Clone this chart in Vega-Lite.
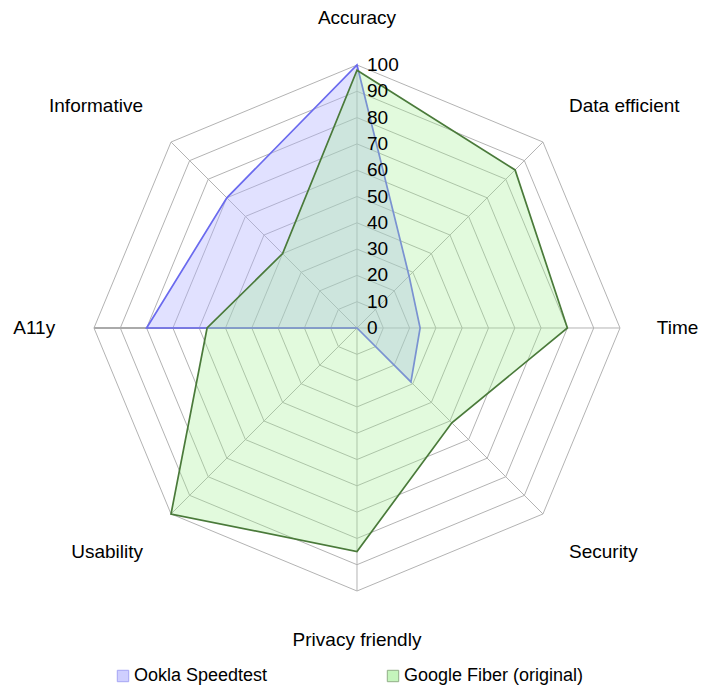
{
  "$schema": "https://vega.github.io/schema/vega-lite/v6.json",
  "width": 720,
  "height": 695,
  "autosize": "none",
  "padding": 0,
  "background": "white",
  "config": {"view": {"stroke": null}, "font": "Liberation Sans"},
  "datasets": {
    "scores": [
      {"series": "Ookla Speedtest", "category": "Accuracy", "k": 0, "value": 100},
      {"series": "Ookla Speedtest", "category": "Data efficient", "k": 1, "value": 28},
      {"series": "Ookla Speedtest", "category": "Time", "k": 2, "value": 24},
      {"series": "Ookla Speedtest", "category": "Security", "k": 3, "value": 29},
      {"series": "Ookla Speedtest", "category": "Privacy friendly", "k": 4, "value": 0},
      {"series": "Ookla Speedtest", "category": "Usability", "k": 5, "value": 0},
      {"series": "Ookla Speedtest", "category": "A11y", "k": 6, "value": 80},
      {"series": "Ookla Speedtest", "category": "Informative", "k": 7, "value": 70},
      {"series": "Google Fiber (original)", "category": "Accuracy", "k": 0, "value": 98},
      {"series": "Google Fiber (original)", "category": "Data efficient", "k": 1, "value": 85},
      {"series": "Google Fiber (original)", "category": "Time", "k": 2, "value": 80},
      {"series": "Google Fiber (original)", "category": "Security", "k": 3, "value": 51},
      {"series": "Google Fiber (original)", "category": "Privacy friendly", "k": 4, "value": 85},
      {"series": "Google Fiber (original)", "category": "Usability", "k": 5, "value": 100},
      {"series": "Google Fiber (original)", "category": "A11y", "k": 6, "value": 57},
      {"series": "Google Fiber (original)", "category": "Informative", "k": 7, "value": 40}
    ],
    "categories": [
      {"category": "Accuracy", "k": 0},
      {"category": "Data efficient", "k": 1},
      {"category": "Time", "k": 2},
      {"category": "Security", "k": 3},
      {"category": "Privacy friendly", "k": 4},
      {"category": "Usability", "k": 5},
      {"category": "A11y", "k": 6},
      {"category": "Informative", "k": 7}
    ],
    "rings": [
      {"level": 10, "k": [0, 1, 2, 3, 4, 5, 6, 7]},
      {"level": 20, "k": [0, 1, 2, 3, 4, 5, 6, 7]},
      {"level": 30, "k": [0, 1, 2, 3, 4, 5, 6, 7]},
      {"level": 40, "k": [0, 1, 2, 3, 4, 5, 6, 7]},
      {"level": 50, "k": [0, 1, 2, 3, 4, 5, 6, 7]},
      {"level": 60, "k": [0, 1, 2, 3, 4, 5, 6, 7]},
      {"level": 70, "k": [0, 1, 2, 3, 4, 5, 6, 7]},
      {"level": 80, "k": [0, 1, 2, 3, 4, 5, 6, 7]},
      {"level": 90, "k": [0, 1, 2, 3, 4, 5, 6, 7]},
      {"level": 100, "k": [0, 1, 2, 3, 4, 5, 6, 7]}
    ],
    "ticks": [
      {"level": 0}, {"level": 10}, {"level": 20}, {"level": 30}, {"level": 40},
      {"level": 50}, {"level": 60}, {"level": 70}, {"level": 80}, {"level": 90}, {"level": 100}
    ]
  },
  "layer": [
    {
      "data": {"name": "rings"},
      "transform": [
        {"flatten": ["k"]},
        {"calculate": "datum.level * sin(datum.k * PI / 4)", "as": "px"},
        {"calculate": "datum.level * cos(datum.k * PI / 4)", "as": "py"}
      ],
      "mark": {"type": "line", "interpolate": "linear-closed", "stroke": "#b3b3b3", "strokeWidth": 1},
      "encoding": {
        "x": {"field": "px", "type": "quantitative", "scale": {"domain": [-135.741, 138.023], "nice": false, "zero": false}, "axis": null},
        "y": {"field": "py", "type": "quantitative", "scale": {"domain": [-139.544, 124.715], "nice": false, "zero": false}, "axis": null},
        "detail": {"field": "level", "type": "nominal"},
        "order": {"field": "k", "type": "quantitative"}
      }
    },
    {
      "data": {"name": "categories"},
      "transform": [
        {"calculate": "0", "as": "cx"},
        {"calculate": "100 * sin(datum.k * PI / 4)", "as": "sx"},
        {"calculate": "100 * cos(datum.k * PI / 4)", "as": "sy"}
      ],
      "mark": {"type": "rule", "stroke": "#b3b3b3", "strokeWidth": 1},
      "encoding": {
        "x": {"field": "cx", "type": "quantitative", "scale": {"domain": [-135.741, 138.023], "nice": false, "zero": false}, "axis": null},
        "y": {"field": "cx", "type": "quantitative", "scale": {"domain": [-139.544, 124.715], "nice": false, "zero": false}, "axis": null},
        "x2": {"field": "sx"},
        "y2": {"field": "sy"}
      }
    },
    {
      "data": {"name": "categories"},
      "transform": [
        {"filter": "datum.category == 'A11y'"},
        {"calculate": "0", "as": "cx"},
        {"calculate": "100 * sin(datum.k * PI / 4)", "as": "sx"},
        {"calculate": "100 * cos(datum.k * PI / 4)", "as": "sy"}
      ],
      "mark": {"type": "rule", "stroke": "#aaaaaa", "strokeWidth": 2},
      "encoding": {
        "x": {"field": "cx", "type": "quantitative", "scale": {"domain": [-135.741, 138.023], "nice": false, "zero": false}, "axis": null},
        "y": {"field": "cx", "type": "quantitative", "scale": {"domain": [-139.544, 124.715], "nice": false, "zero": false}, "axis": null},
        "x2": {"field": "sx"},
        "y2": {"field": "sy"}
      }
    },
    {
      "data": {"name": "scores"},
      "transform": [
        {"calculate": "datum.value * sin(datum.k * PI / 4)", "as": "px"},
        {"calculate": "datum.value * cos(datum.k * PI / 4)", "as": "py"}
      ],
      "mark": {"type": "line", "interpolate": "linear-closed", "strokeWidth": 1.7},
      "encoding": {
        "x": {"field": "px", "type": "quantitative", "scale": {"domain": [-135.741, 138.023], "nice": false, "zero": false}, "axis": null},
        "y": {"field": "py", "type": "quantitative", "scale": {"domain": [-139.544, 124.715], "nice": false, "zero": false}, "axis": null},
        "order": {"field": "k", "type": "quantitative"},
        "stroke": {
          "field": "series", "type": "nominal",
          "scale": {"domain": ["Ookla Speedtest", "Google Fiber (original)"], "range": ["#6a6aee", "#4a7a3a"]},
          "legend": {
            "title": null, "orient": "none", "direction": "horizontal",
            "legendX": 114, "legendY": 667, "padding": 0,
            "symbolType": "square", "symbolSize": 130, "symbolStrokeWidth": 1,
            "symbolOpacity": 0.6, "labelFontSize": 18, "labelFont": "Liberation Sans",
            "labelColor": "#000000", "labelOffset": 2, "labelLimit": 0, "columnPadding": 116
          }
        },
        "fill": {
          "field": "series", "type": "nominal",
          "scale": {"domain": ["Ookla Speedtest", "Google Fiber (original)"], "range": ["#b0b0ff", "#a0f090"]},
          "legend": {
            "title": null, "orient": "none", "direction": "horizontal",
            "legendX": 114, "legendY": 667, "padding": 0,
            "symbolType": "square", "symbolSize": 130, "symbolStrokeWidth": 1,
            "symbolOpacity": 0.6, "labelFontSize": 18, "labelFont": "Liberation Sans",
            "labelColor": "#000000", "labelOffset": 2, "labelLimit": 0, "columnPadding": 116
          }
        },
        "fillOpacity": {
          "field": "series", "type": "nominal",
          "scale": {"domain": ["Ookla Speedtest", "Google Fiber (original)"], "range": [0.38, 0.3]},
          "legend": null
        }
      }
    },
    {
      "data": {"name": "ticks"},
      "transform": [{"calculate": "0", "as": "cx"}],
      "mark": {"type": "text", "align": "left", "baseline": "middle", "dx": 10, "fontSize": 19, "font": "Liberation Sans", "color": "#000000"},
      "encoding": {
        "x": {"field": "cx", "type": "quantitative", "scale": {"domain": [-135.741, 138.023], "nice": false, "zero": false}, "axis": null},
        "y": {"field": "level", "type": "quantitative", "scale": {"domain": [-139.544, 124.715], "nice": false, "zero": false}, "axis": null},
        "text": {"field": "level", "type": "quantitative"}
      }
    },
    {
      "data": {"name": "categories"},
      "transform": [
        {"calculate": "114 * sin(datum.k * PI / 4)", "as": "lx"},
        {"calculate": "114 * cos(datum.k * PI / 4)", "as": "ly"}
      ],
      "mark": {
        "type": "text", "fontSize": 19, "font": "Liberation Sans", "color": "#000000",
        "align": {"expr": "datum.lx > 1 ? 'left' : (datum.lx < -1 ? 'right' : 'center')"},
        "baseline": {"expr": "datum.ly > 1 ? 'bottom' : (datum.ly < -1 ? 'top' : 'middle')"},
        "dy": {"expr": "datum.ly < -1 ? 3 : 0"},
        "dx": {"expr": "datum.lx < -1 ? -2 : 0"}
      },
      "encoding": {
        "x": {"field": "lx", "type": "quantitative", "scale": {"domain": [-135.741, 138.023], "nice": false, "zero": false}, "axis": null},
        "y": {"field": "ly", "type": "quantitative", "scale": {"domain": [-139.544, 124.715], "nice": false, "zero": false}, "axis": null},
        "text": {"field": "category", "type": "nominal"}
      }
    }
  ]
}
